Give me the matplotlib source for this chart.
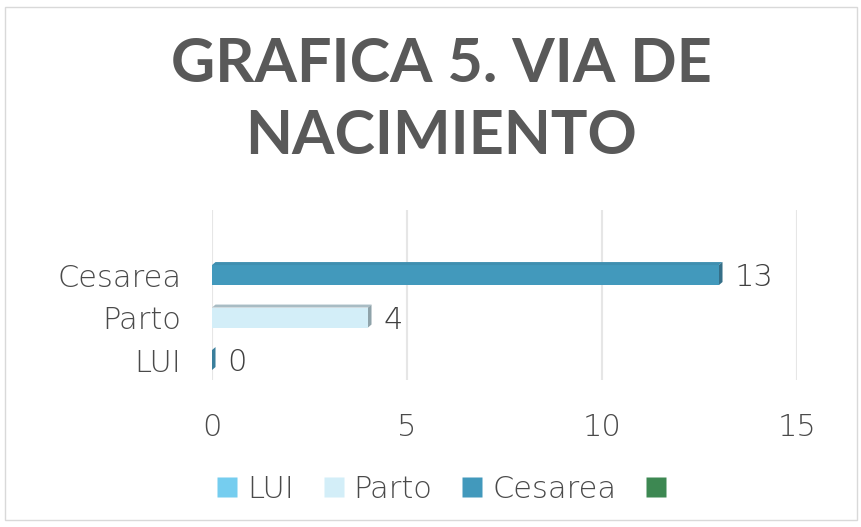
import matplotlib
matplotlib.use("Agg")
import matplotlib.pyplot as plt
from matplotlib.patches import Polygon, Rectangle
from matplotlib.lines import Line2D

categories = ["LUI", "Parto", "Cesarea"]
values = [0, 4, 13]
colors = ["#4A9BBB", "#D3EEF8", "#4299BC"]
side_colors = ["#3A7F9C", "#8FA3AA", "#356F88"]
top_colors = ["#4A9BBB", "#A8BCC4", "#3F8FB0"]
legend_labels = ["LUI", "Parto", "Cesarea", ""]
legend_colors = ["#75CDEF", "#D3EEF8", "#4299BC", "#3D8852"]
xticks = [0, 5, 10, 15]
title = "GRAFICA 5. VIA DE\nNACIMIENTO"

plt.rcParams['font.family'] = ['DejaVu Sans']
plt.rcParams['font.weight'] = 'light'
txt = "#4A4A4A"
lab_fs = 22

fig = plt.figure(figsize=(8.62, 5.27), dpi=100)
fig.patches.append(Rectangle((5/862, 1-520/527), 852/862, 513/527, transform=fig.transFigure,
                             fill=False, edgecolor="#D9D9D9", linewidth=1))
ax = fig.add_axes([212/862, 1-380/527, (797-212)/862, 170/527])
ax.set_xlim(0, 15)
ax.set_ylim(-0.47, 3.53)
bh = 0.47
dx, dy = 0.09, 0.07
ys = list(range(len(categories)))
ax.barh(ys, values, height=bh, color=colors, zorder=3)
for y, v, sc, tc in zip(ys, values, side_colors, top_colors):
    ax.add_patch(Polygon([(0, y+bh/2), (v, y+bh/2), (v+dx, y+bh/2+dy), (dx, y+bh/2+dy)],
                         closed=True, facecolor=tc, edgecolor="none", zorder=3))
    ax.add_patch(Polygon([(v, y-bh/2), (v+dx, y-bh/2+dy), (v+dx, y+bh/2+dy), (v, y+bh/2)],
                         closed=True, facecolor=sc, edgecolor="none", zorder=3))
    ax.text(v + dx + 0.3, y - 0.06, str(v), va="center", ha="left", fontsize=lab_fs,
            color="#404040")

ax.set_yticks(ys)
ax.set_yticklabels(categories, fontsize=lab_fs, color=txt)
ax.set_xticks(xticks)
ax.set_xticklabels([str(t) for t in xticks], fontsize=lab_fs, color=txt)
ax.tick_params(axis="both", length=0)
ax.tick_params(axis="x", pad=24)
ax.tick_params(axis="y", pad=22)
ax.grid(axis="x", color="#E6E6E6", linewidth=1.5, zorder=0)
for s in ax.spines.values():
    s.set_visible(False)

fig.text(0.512, 1-100/527, title, ha="center", va="center", fontsize=44, fontweight="bold",
         color="#595959", linespacing=1.35, family=["Lato", "DejaVu Sans"])

handles = [Line2D([], [], marker="s", linestyle="none", markersize=14, markerfacecolor=c,
                  markeredgecolor="none") for c in legend_colors]
fig.legend(handles, legend_labels, loc="center", bbox_to_anchor=(0.515, 1-489/527), ncol=4,
           frameon=False, fontsize=lab_fs, labelcolor=txt, handletextpad=0.15, columnspacing=0.8,
           handlelength=1.0)

fig.savefig("out.png", dpi=100)
